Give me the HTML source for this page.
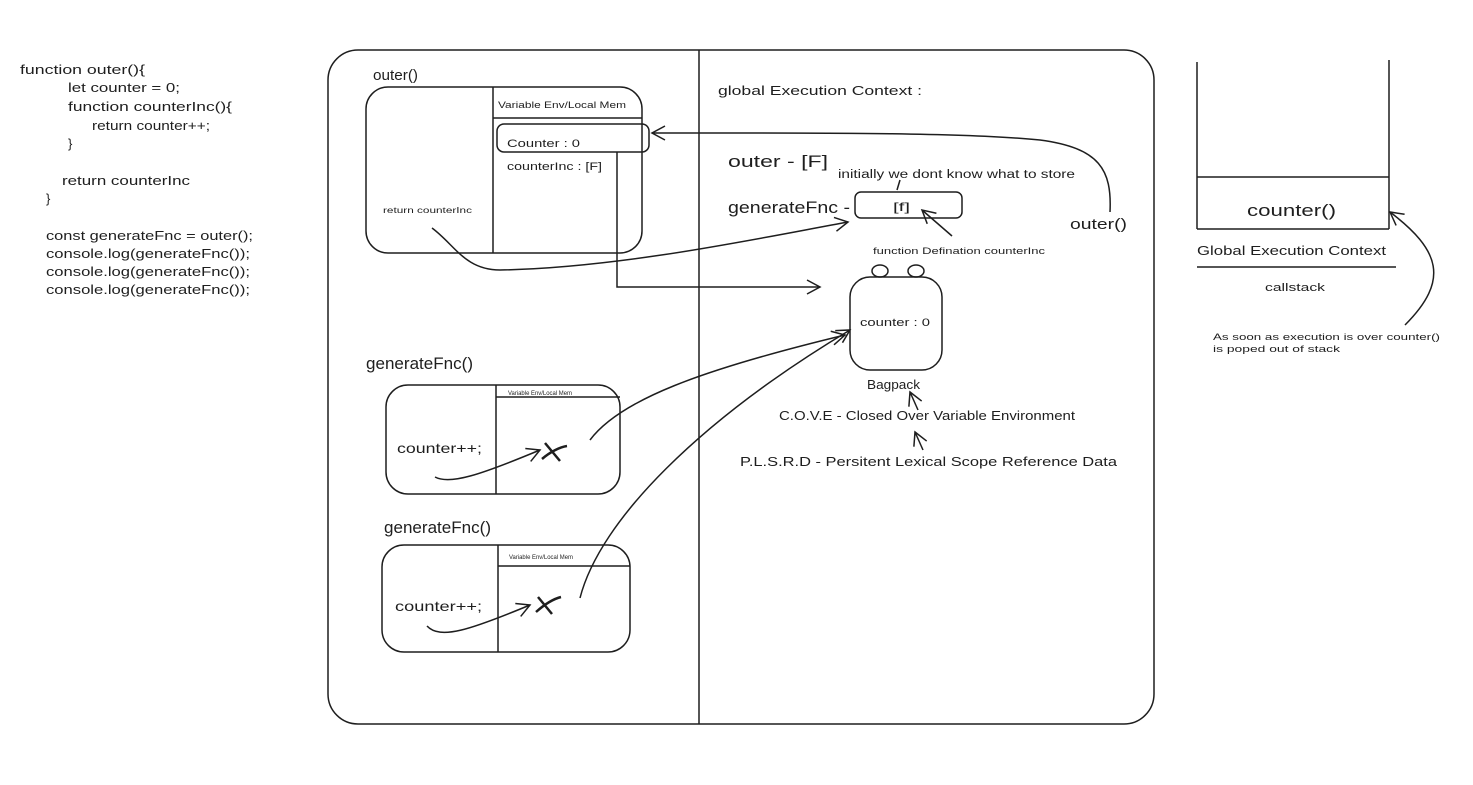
<!DOCTYPE html>
<html><head><meta charset="utf-8"><style>
html,body{margin:0;padding:0;background:#fff;}
svg{display:block;}
text{font-family:"Liberation Sans",sans-serif;fill:#1e1e1e;}
</style></head><body>
<svg width="1473" height="785" viewBox="0 0 1473 785" xmlns="http://www.w3.org/2000/svg">
<defs>
<marker id="a" markerWidth="16" markerHeight="16" refX="14" refY="8" orient="auto" markerUnits="userSpaceOnUse">
<path d="M1,1 L14,8 L1,15" fill="none" stroke="#1e1e1e" stroke-width="1.5"/>
</marker>
</defs>
<g fill="none" stroke="#1e1e1e" stroke-width="1.5">
<rect x="328" y="50" width="826" height="674" rx="30"/>
<line x1="699" y1="50" x2="699" y2="724"/>
<rect x="366" y="87" width="276" height="166" rx="22"/>
<line x1="493" y1="87" x2="493" y2="253"/>
<line x1="493" y1="118" x2="642" y2="118"/>
<rect x="497" y="124" width="152" height="28" rx="7"/>
<path d="M617,152 L617,287 L820,287" marker-end="url(#a)"/>
<path d="M432,228 C455,245 465,270 500,270 C620,268 760,238 848,222" marker-end="url(#a)"/>
<path d="M1110,212 C1112,170 1100,148 1040,140 C960,132 800,133 652,133" marker-end="url(#a)"/>
<rect x="855" y="192" width="107" height="26" rx="6"/>
<path d="M952,236 L922,210" marker-end="url(#a)"/>
<path d="M900,180 L897,190"/>
<rect x="850" y="277" width="92" height="93" rx="20"/>
<ellipse cx="880" cy="271" rx="8" ry="6"/>
<ellipse cx="916" cy="271" rx="8" ry="6"/>
<path d="M918,410 L910,392" marker-end="url(#a)"/>
<path d="M923,450 L915,432" marker-end="url(#a)"/>
<rect x="386" y="385" width="234" height="109" rx="22"/>
<line x1="496" y1="385" x2="496" y2="494"/>
<line x1="496" y1="397" x2="620" y2="397"/>
<path d="M435,477 C450,485 480,475 540,450" marker-end="url(#a)"/>
<path d="M590,440 C620,400 700,370 845,335" marker-end="url(#a)"/>
<rect x="382" y="545" width="248" height="107" rx="22"/>
<line x1="498" y1="545" x2="498" y2="652"/>
<line x1="498" y1="566" x2="630" y2="566"/>
<path d="M427,626 C440,640 470,630 530,605" marker-end="url(#a)"/>
<path d="M580,598 C600,520 700,420 850,330" marker-end="url(#a)"/>
<line x1="1197" y1="62" x2="1197" y2="229"/>
<line x1="1389" y1="60" x2="1389" y2="229"/>
<line x1="1197" y1="177" x2="1389" y2="177"/>
<line x1="1197" y1="229" x2="1389" y2="229"/>
<line x1="1197" y1="267" x2="1396" y2="267"/>
<path d="M1405,325 C1450,280 1440,250 1390,212" marker-end="url(#a)"/>
</g>
<g stroke="#1e1e1e" stroke-width="2.5" fill="none">
<path d="M545,443 L560,461 M542,459 C550,452 560,447 567,446"/>
<path d="M538,597 L552,614 M536,612 C545,604 553,599 561,597"/>
</g>
<g font-size="13">
<text x="20" y="74" textLength="125" lengthAdjust="spacingAndGlyphs">function outer(){</text>
<text x="68" y="92" textLength="112" lengthAdjust="spacingAndGlyphs">let counter = 0;</text>
<text x="68" y="111" textLength="164" lengthAdjust="spacingAndGlyphs">function counterInc(){</text>
<text x="92" y="130" textLength="118" lengthAdjust="spacingAndGlyphs">return counter++;</text>
<text x="68" y="148">}</text>
<text x="62" y="185" textLength="128" lengthAdjust="spacingAndGlyphs">return counterInc</text>
<text x="46" y="203">}</text>
<text x="46" y="240" textLength="207" lengthAdjust="spacingAndGlyphs">const generateFnc = outer();</text>
<text x="46" y="258" textLength="204" lengthAdjust="spacingAndGlyphs">console.log(generateFnc());</text>
<text x="46" y="276" textLength="204" lengthAdjust="spacingAndGlyphs">console.log(generateFnc());</text>
<text x="46" y="294" textLength="204" lengthAdjust="spacingAndGlyphs">console.log(generateFnc());</text>
</g>
<text x="373" y="80" font-size="15" textLength="45" lengthAdjust="spacingAndGlyphs">outer()</text>
<text x="498" y="108" font-size="9" textLength="128" lengthAdjust="spacingAndGlyphs">Variable Env/Local Mem</text>
<text x="507" y="147" font-size="11" textLength="73" lengthAdjust="spacingAndGlyphs">Counter : 0</text>
<text x="507" y="170" font-size="11" textLength="95" lengthAdjust="spacingAndGlyphs">counterInc : [F]</text>
<text x="383" y="213" font-size="8.5" textLength="89" lengthAdjust="spacingAndGlyphs">return counterInc</text>
<text x="718" y="95" font-size="13" textLength="204" lengthAdjust="spacingAndGlyphs">global Execution Context :</text>
<text x="728" y="167" font-size="17" textLength="100" lengthAdjust="spacingAndGlyphs">outer - [F]</text>
<text x="838" y="178" font-size="11.5" textLength="237" lengthAdjust="spacingAndGlyphs">initially we dont know what to store</text>
<text x="728" y="213" font-size="17" textLength="122" lengthAdjust="spacingAndGlyphs">generateFnc -</text>
<text x="893" y="211" font-size="12" textLength="17" lengthAdjust="spacingAndGlyphs">[f]</text>
<text x="873" y="254" font-size="9" textLength="172" lengthAdjust="spacingAndGlyphs">function Defination counterInc</text>
<text x="1070" y="229" font-size="15" textLength="57" lengthAdjust="spacingAndGlyphs">outer()</text>
<text x="860" y="326" font-size="11" textLength="70" lengthAdjust="spacingAndGlyphs">counter : 0</text>
<text x="867" y="389" font-size="13" textLength="53" lengthAdjust="spacingAndGlyphs">Bagpack</text>
<text x="779" y="420" font-size="12.5" textLength="296" lengthAdjust="spacingAndGlyphs">C.O.V.E - Closed Over Variable Environment</text>
<text x="740" y="466" font-size="13" textLength="377" lengthAdjust="spacingAndGlyphs">P.L.S.R.D - Persitent Lexical Scope Reference Data</text>
<text x="366" y="369" font-size="17" textLength="107" lengthAdjust="spacingAndGlyphs">generateFnc()</text>
<text x="508" y="395" font-size="6" textLength="64" lengthAdjust="spacingAndGlyphs">Variable Env/Local Mem</text>
<text x="397" y="453" font-size="14" textLength="85" lengthAdjust="spacingAndGlyphs">counter++;</text>
<text x="384" y="533" font-size="17" textLength="107" lengthAdjust="spacingAndGlyphs">generateFnc()</text>
<text x="509" y="559" font-size="6" textLength="64" lengthAdjust="spacingAndGlyphs">Variable Env/Local Mem</text>
<text x="395" y="611" font-size="14" textLength="87" lengthAdjust="spacingAndGlyphs">counter++;</text>
<text x="1247" y="216" font-size="17" textLength="89" lengthAdjust="spacingAndGlyphs">counter()</text>
<text x="1197" y="255" font-size="13" textLength="189" lengthAdjust="spacingAndGlyphs">Global Execution Context</text>
<text x="1265" y="291" font-size="11" textLength="60" lengthAdjust="spacingAndGlyphs">callstack</text>
<text x="1213" y="340" font-size="9.5" textLength="227" lengthAdjust="spacingAndGlyphs">As soon as execution is over counter()</text>
<text x="1213" y="352" font-size="9.5" textLength="127" lengthAdjust="spacingAndGlyphs">is poped out of stack</text>
</svg>
</body></html>
